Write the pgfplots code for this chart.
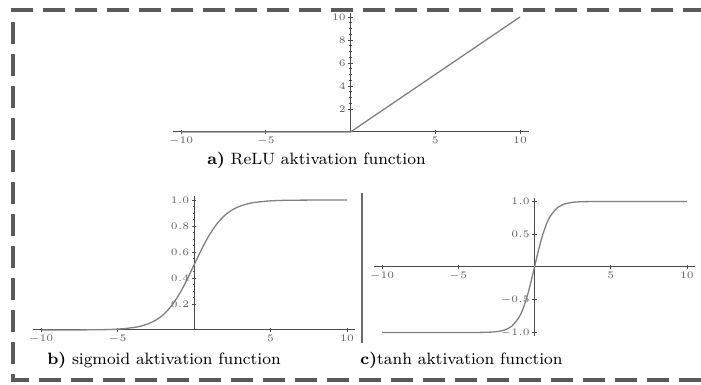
\documentclass[border=0pt]{standalone}
\usepackage{pgfplots}
\pgfplotsset{compat=1.18}
\definecolor{axgray}{HTML}{4A4A4A}
\definecolor{curvegray}{HTML}{808080}
\definecolor{bordergray}{HTML}{5A5A5A}
\pgfplotsset{
  actstyle/.style={
    scale only axis,
    anchor=south west,
    axis lines=middle,
    axis line style={-, draw=axgray, line width=0.5pt},
    tick style={draw=axgray, line width=0.35pt},
    tick align=center,
    major tick length=2.2pt,
    minor tick length=1.3pt,
    minor x tick num=4,
    xtick={-10,-5,5,10},
    xmin=-10.5, xmax=10.5,
    ticklabel style={font=\fontsize{3.8}{4}\selectfont, text=gray!75!black},
    xticklabel style={yshift=2.2pt},
    yticklabel style={xshift=2.2pt},
    clip=false,
  }
}
\begin{document}
\begin{tikzpicture}
\path[use as bounding box] (0pt,0pt) rectangle (350.5pt,192.5pt);
\draw[bordergray, line width=1.8pt, dash pattern=on 11pt off 5pt]
  (352.5pt,187.5pt) -- (6.5pt,187.5pt) -- (6.5pt,2.5pt) -- (352.5pt,2.5pt);
% separator
\draw[gray!85!black, line width=1.3pt] (181pt,21pt) -- (181pt,96pt);

% a) ReLU
\begin{axis}[actstyle, at={(86.25pt,126.5pt)}, width=178pt, height=59.25pt,
  ymin=0, ymax=10.3, ytick={2,4,6,8,10}, minor y tick num=3]
\addplot[curvegray, line width=0.65pt] coordinates {(-10,0) (0,0) (10,10)};
\end{axis}
\node[font=\fontsize{8.2}{10}\selectfont] at (158.25pt,112.5pt) {\textbf{a)} ReLU aktivation function};

% b) sigmoid
\begin{axis}[actstyle, at={(16.7pt,27.5pt)}, width=160.65pt, height=66.95pt,
  ymin=0, ymax=1.03, ytick={0.2,0.4,0.6,0.8,1.0}, minor y tick num=3,
  yticklabel style={/pgf/number format/.cd, fixed, fixed zerofill, precision=1}]
\addplot[curvegray, line width=0.65pt, smooth] coordinates {
(-10,0.0000454) (-8,0.000335) (-6,0.00247) (-5,0.00669) (-4,0.0180)
(-3.5,0.0293) (-3,0.0474) (-2.5,0.0759) (-2,0.1192) (-1.5,0.1824)
(-1,0.2689) (-0.5,0.3775) (0,0.5) (0.5,0.6225) (1,0.7311) (1.5,0.8176)
(2,0.8808) (2.5,0.9241) (3,0.9526) (3.5,0.9707) (4,0.9820) (5,0.9933)
(6,0.99753) (8,0.99966) (10,0.99995)};
\end{axis}
\node[font=\fontsize{8.2}{10}\selectfont] at (82pt,12.5pt) {\textbf{b)} sigmoid aktivation function};

% c) tanh
\begin{axis}[actstyle, at={(187.2pt,24.6pt)}, width=160.1pt, height=68.8pt,
  ymin=-1.05, ymax=1.05, ytick={-1,-0.5,0.5,1}, minor y tick num=4,
  yticklabel style={/pgf/number format/.cd, fixed, fixed zerofill, precision=1}]
\addplot[curvegray, line width=0.65pt, smooth] coordinates {
(-10,-1.0) (-6,-0.99999) (-4,-0.9993) (-3,-0.9951) (-2.5,-0.9866)
(-2,-0.9640) (-1.5,-0.9051) (-1,-0.7616) (-0.75,-0.6351) (-0.5,-0.4621)
(-0.25,-0.2449) (0,0) (0.25,0.2449) (0.5,0.4621) (0.75,0.6351)
(1,0.7616) (1.5,0.9051) (2,0.9640) (2.5,0.9866) (3,0.9951) (4,0.9993)
(6,0.99999) (10,1.0)};
\end{axis}
\node[font=\fontsize{8.2}{10}\selectfont] at (230.75pt,12.5pt) {\textbf{c)}tanh aktivation function};
\end{tikzpicture}
\end{document}
